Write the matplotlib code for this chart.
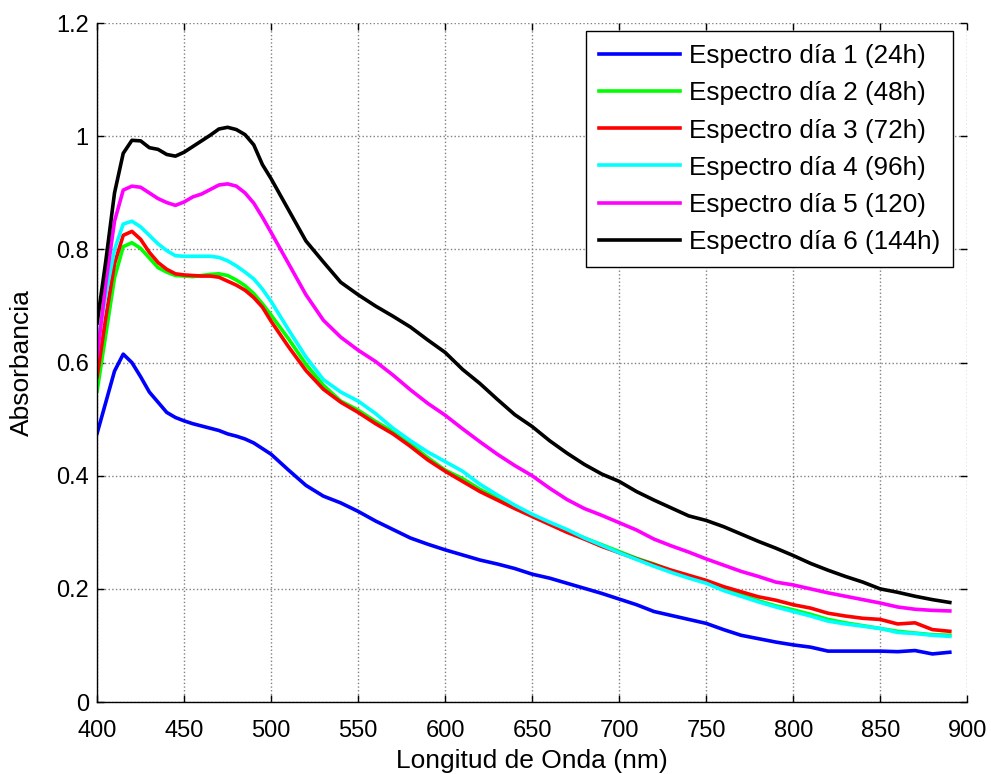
# -*- coding: utf-8 -*-
# Espectros de absorbancia, días 1 a 6
import numpy as np
import matplotlib
matplotlib.use('Agg')
from matplotlib import pyplot as plt

plt.rcParams['font.family'] = ['Liberation Sans', 'DejaVu Sans']

# longitudes de onda (nm)
wl = [400, 405, 410, 415, 420, 425, 430, 435, 440, 445, 450, 455, 460, 465, 470,
      475, 480, 485, 490, 495, 500, 510, 520, 530, 540, 550, 560, 570, 580, 590,
      600, 610, 620, 630, 640, 650, 660, 670, 680, 690, 700, 710, 720, 730, 740,
      750, 760, 770, 780, 790, 800, 810, 820, 830, 840, 850, 860, 870, 880, 890]

dia1 = [0.475, 0.53, 0.585, 0.615, 0.600, 0.575, 0.548, 0.530, 0.512, 0.503, 0.497, 0.492,
        0.488, 0.484, 0.480, 0.474, 0.470, 0.465, 0.458, 0.448, 0.438, 0.410, 0.383, 0.364,
        0.352, 0.337, 0.320, 0.305, 0.290, 0.279, 0.269, 0.260, 0.251, 0.244, 0.236, 0.226,
        0.219, 0.210, 0.201, 0.192, 0.182, 0.172, 0.160, 0.153, 0.146, 0.139, 0.128, 0.118,
        0.112, 0.106, 0.101, 0.097, 0.090, 0.090, 0.090, 0.090, 0.089, 0.091, 0.085, 0.088]

dia2 = [0.550, 0.650, 0.750, 0.805, 0.812, 0.802, 0.785, 0.768, 0.760, 0.754, 0.753, 0.752,
        0.754, 0.756, 0.757, 0.754, 0.746, 0.736, 0.722, 0.704, 0.684, 0.642, 0.597, 0.560,
        0.532, 0.516, 0.496, 0.478, 0.456, 0.432, 0.410, 0.395, 0.376, 0.360, 0.343, 0.330,
        0.316, 0.303, 0.290, 0.278, 0.266, 0.254, 0.244, 0.232, 0.222, 0.212, 0.200, 0.190,
        0.179, 0.170, 0.163, 0.155, 0.146, 0.140, 0.135, 0.130, 0.125, 0.122, 0.119, 0.118]

dia3 = [0.575, 0.680, 0.775, 0.825, 0.832, 0.818, 0.795, 0.777, 0.765, 0.757, 0.755, 0.754,
        0.753, 0.753, 0.751, 0.744, 0.737, 0.728, 0.715, 0.698, 0.673, 0.628, 0.586, 0.553,
        0.530, 0.512, 0.492, 0.474, 0.452, 0.428, 0.408, 0.390, 0.372, 0.357, 0.342, 0.328,
        0.314, 0.300, 0.288, 0.275, 0.264, 0.253, 0.243, 0.233, 0.224, 0.215, 0.204, 0.195,
        0.186, 0.180, 0.172, 0.166, 0.157, 0.152, 0.148, 0.146, 0.138, 0.140, 0.128, 0.125]

dia4 = [0.630, 0.720, 0.800, 0.845, 0.850, 0.840, 0.825, 0.810, 0.798, 0.789, 0.788, 0.788,
        0.788, 0.788, 0.786, 0.780, 0.771, 0.760, 0.748, 0.730, 0.708, 0.658, 0.610, 0.570,
        0.548, 0.532, 0.510, 0.484, 0.462, 0.442, 0.425, 0.408, 0.385, 0.366, 0.348, 0.332,
        0.318, 0.305, 0.290, 0.277, 0.264, 0.252, 0.240, 0.229, 0.219, 0.210, 0.197, 0.187,
        0.177, 0.168, 0.160, 0.152, 0.143, 0.138, 0.134, 0.130, 0.123, 0.121, 0.118, 0.116]

dia5 = [0.610, 0.740, 0.850, 0.905, 0.912, 0.910, 0.900, 0.890, 0.883, 0.878, 0.884, 0.893,
        0.898, 0.906, 0.914, 0.916, 0.912, 0.900, 0.882, 0.857, 0.830, 0.775, 0.720, 0.675,
        0.645, 0.622, 0.602, 0.578, 0.552, 0.528, 0.507, 0.483, 0.460, 0.438, 0.418, 0.400,
        0.378, 0.358, 0.342, 0.330, 0.317, 0.304, 0.288, 0.276, 0.265, 0.253, 0.242, 0.231,
        0.222, 0.212, 0.207, 0.200, 0.193, 0.187, 0.181, 0.175, 0.168, 0.164, 0.162, 0.161]

dia6 = [0.670, 0.780, 0.900, 0.970, 0.993, 0.992, 0.980, 0.977, 0.968, 0.965, 0.972, 0.982,
        0.992, 1.002, 1.013, 1.016, 1.012, 1.003, 0.985, 0.950, 0.925, 0.870, 0.815, 0.778,
        0.742, 0.720, 0.700, 0.682, 0.663, 0.640, 0.618, 0.588, 0.563, 0.535, 0.508, 0.487,
        0.462, 0.440, 0.420, 0.403, 0.390, 0.372, 0.357, 0.343, 0.329, 0.321, 0.310, 0.297,
        0.284, 0.272, 0.259, 0.245, 0.233, 0.222, 0.212, 0.200, 0.194, 0.187, 0.181, 0.176]

series = [dia1, dia2, dia3, dia4, dia5, dia6]
etiquetas = ['Espectro día 1 (24h)', 'Espectro día 2 (48h)', 'Espectro día 3 (72h)',
             'Espectro día 4 (96h)', 'Espectro día 5 (120)', 'Espectro día 6 (144h)']
colores = ['#0000ff', '#00ff00', '#ff0000', '#00ffff', '#ff00ff', '#000000']

fig = plt.figure(figsize=(9.91, 7.74), dpi=100)
ax = fig.add_axes([0.098, 0.093, 0.878, 0.877])

for y, lab, c in zip(series, etiquetas, colores):
    ax.plot(wl, y, color=c, lw=2.6, label=lab)

ax.set_xlim(400, 900)
ax.set_ylim(0, 1.2)
ax.set_xticks(np.arange(400, 901, 50))
ax.set_yticks([0, 0.2, 0.4, 0.6, 0.8, 1.0, 1.2])
ax.set_yticklabels(['0', '0.2', '0.4', '0.6', '0.8', '1', '1.2'])

# rejilla punteada estilo matlab
ax.grid(True, color='#808080', linestyle=':', linewidth=1.0)
ax.tick_params(direction='in', length=5, width=1, labelsize=17,
               top=True, right=True)
ax.tick_params(axis='x', pad=13)
ax.tick_params(axis='y', pad=6)
for s in ['top', 'right']:
    ax.spines[s].set_visible(False)
for s in ['left', 'bottom']:
    ax.spines[s].set_linewidth(1.0)

ax.set_xlabel('Longitud de Onda (nm)', fontsize=19, labelpad=5)
ax.set_ylabel('Absorbancia', fontsize=19, labelpad=16)

leg = ax.legend(loc='upper right', bbox_to_anchor=(0.984, 0.988), fontsize=18.8,
                handlelength=3.1, handletextpad=0.35, labelspacing=0.5,
                borderpad=0.5, borderaxespad=0, fancybox=False, framealpha=1)
leg.get_frame().set_edgecolor('black')
leg.get_frame().set_linewidth(1.0)

plt.savefig('out.png', dpi=100)
